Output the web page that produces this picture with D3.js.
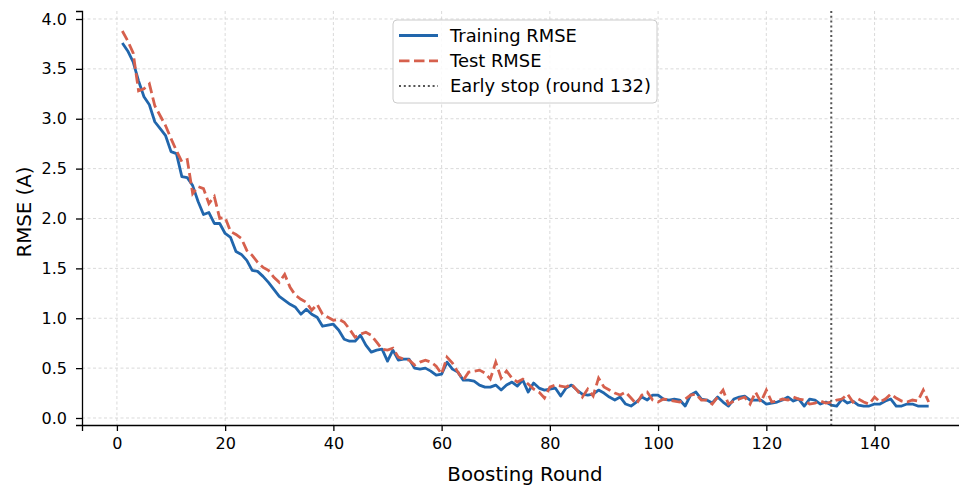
<!DOCTYPE html>
<html>
<head>
<meta charset="utf-8">
<script src="https://cdn.jsdelivr.net/npm/d3@7/dist/d3.min.js"></script>
<style>
  html, body { margin: 0; padding: 0; background: #fff; }
  svg { display: block; font-family: "DejaVu Sans", sans-serif; }
</style>
</head>
<body>
<svg id="chart" width="959" height="485"></svg>
<script>
// Boosting rounds 1..150
const rounds = d3.range(1, 151);

const trainRmse = [
  3.76, 3.68, 3.57, 3.38, 3.22, 3.14, 2.97, 2.90, 2.83, 2.67,
  2.65, 2.42, 2.41, 2.33, 2.17, 2.04, 2.06, 1.95, 1.95, 1.85,
  1.81, 1.67, 1.64, 1.58, 1.48, 1.47, 1.42, 1.36, 1.29, 1.22,
  1.18, 1.14, 1.11, 1.04, 1.09, 1.04, 1.01, 0.92, 0.93, 0.94,
  0.88, 0.79, 0.77, 0.77, 0.83, 0.73, 0.66, 0.68, 0.69, 0.57,
  0.68, 0.58, 0.59, 0.59, 0.50, 0.49, 0.50, 0.47, 0.43, 0.44,
  0.56, 0.49, 0.46, 0.38, 0.38, 0.37, 0.33, 0.31, 0.31, 0.33,
  0.28, 0.33, 0.36, 0.32, 0.38, 0.26, 0.35, 0.30, 0.28, 0.29,
  0.30, 0.22, 0.30, 0.33, 0.28, 0.24, 0.23, 0.24, 0.28, 0.25,
  0.21, 0.18, 0.21, 0.14, 0.12, 0.16, 0.21, 0.18, 0.23, 0.23,
  0.19, 0.18, 0.19, 0.18, 0.12, 0.23, 0.26, 0.19, 0.18, 0.15,
  0.21, 0.16, 0.12, 0.19, 0.21, 0.22, 0.18, 0.18, 0.18, 0.14,
  0.15, 0.16, 0.18, 0.21, 0.17, 0.19, 0.12, 0.19, 0.18, 0.14,
  0.16, 0.13, 0.12, 0.19, 0.15, 0.17, 0.13, 0.12, 0.12, 0.14,
  0.14, 0.17, 0.19, 0.12, 0.12, 0.14, 0.14, 0.12, 0.12, 0.12
];

const testRmse = [
  3.88, 3.78, 3.66, 3.28, 3.30, 3.35, 3.13, 3.03, 2.93, 2.80,
  2.68, 2.57, 2.59, 2.25, 2.32, 2.30, 2.15, 2.22, 2.00, 2.01,
  1.87, 1.84, 1.80, 1.68, 1.63, 1.56, 1.51, 1.48, 1.41, 1.36,
  1.44, 1.31, 1.23, 1.19, 1.16, 1.08, 1.14, 1.04, 1.01, 0.98,
  0.99, 0.96, 0.89, 0.81, 0.84, 0.86, 0.83, 0.76, 0.69, 0.68,
  0.70, 0.61, 0.59, 0.58, 0.53, 0.56, 0.58, 0.56, 0.52, 0.44,
  0.61, 0.55, 0.46, 0.38, 0.46, 0.47, 0.48, 0.45, 0.39, 0.56,
  0.40, 0.47, 0.40, 0.36, 0.39, 0.34, 0.29, 0.26, 0.20, 0.31,
  0.33, 0.32, 0.31, 0.34, 0.28, 0.21, 0.29, 0.22, 0.40, 0.31,
  0.28, 0.25, 0.23, 0.26, 0.20, 0.14, 0.23, 0.26, 0.18, 0.16,
  0.19, 0.18, 0.17, 0.16, 0.19, 0.23, 0.24, 0.18, 0.18, 0.14,
  0.21, 0.28, 0.14, 0.17, 0.19, 0.21, 0.14, 0.26, 0.16, 0.28,
  0.16, 0.17, 0.19, 0.18, 0.21, 0.19, 0.18, 0.14, 0.15, 0.17,
  0.15, 0.16, 0.18, 0.19, 0.24, 0.16, 0.19, 0.16, 0.14, 0.21,
  0.16, 0.19, 0.24, 0.20, 0.17, 0.16, 0.18, 0.17, 0.28, 0.16
];

const earlyStopRound = 132;
const xTicks = [0, 20, 40, 60, 80, 100, 120, 140];
const yTicks = [0.0, 0.5, 1.0, 1.5, 2.0, 2.5, 3.0, 3.5, 4.0];
const seriesNames = ["Training RMSE", "Test RMSE", "Early stop (round " + earlyStopRound + ")"];

const colors = { train: "#2166ac", test: "#d6604d", stop: "#555555" };

const svg = d3.select("#chart");
const plot = { left: 82, right: 969, top: 11, bottom: 425 };

const x = d3.scaleLinear().domain([-6.45, 157.45]).range([plot.left, plot.right]);
const y = d3.scaleLinear().domain([-0.0702, 4.0802]).range([plot.bottom, plot.top]);

// Grid
const grid = svg.append("g").attr("stroke", "#d0d0d0").attr("stroke-width", 0.8)
  .attr("stroke-dasharray", "3,2.5");
grid.selectAll(".gx").data(xTicks).join("line")
  .attr("x1", d => x(d)).attr("x2", d => x(d))
  .attr("y1", plot.top).attr("y2", plot.bottom);
grid.selectAll(".gy").data(yTicks).join("line")
  .attr("x1", plot.left).attr("x2", plot.right)
  .attr("y1", d => y(d)).attr("y2", d => y(d));

// Series
const line = d3.line().x((d, i) => x(rounds[i])).y(d => y(d));

svg.append("path").datum(trainRmse)
  .attr("fill", "none").attr("stroke", colors.train).attr("stroke-width", 2.8)
  .attr("stroke-linejoin", "round")
  .attr("d", line);

svg.append("path").datum(testRmse)
  .attr("fill", "none").attr("stroke", colors.test).attr("stroke-width", 2.8)
  .attr("stroke-dasharray", "10.5,4.5")
  .attr("d", line);

// Early stopping marker
svg.append("line")
  .attr("x1", x(earlyStopRound)).attr("x2", x(earlyStopRound))
  .attr("y1", plot.top).attr("y2", plot.bottom)
  .attr("stroke", colors.stop).attr("stroke-width", 2)
  .attr("stroke-dasharray", "2,2.8");

// Axes
const xAxis = d3.axisBottom(x).tickValues(xTicks).tickFormat(d3.format("d"))
  .tickSizeOuter(0).tickSize(6).tickPadding(7);
const yAxis = d3.axisLeft(y).tickValues(yTicks).tickFormat(d3.format(".1f"))
  .tickSizeOuter(0).tickSize(6).tickPadding(9);

const gx = svg.append("g").attr("transform", `translate(0,${plot.bottom})`).call(xAxis);
const gy = svg.append("g").attr("transform", `translate(${plot.left},0)`).call(yAxis);

[gx, gy].forEach(g => {
  g.select(".domain").attr("stroke", "#000").attr("stroke-width", 1.3);
  g.selectAll(".tick line").attr("stroke", "#000").attr("stroke-width", 1.3);
  g.selectAll(".tick text").attr("fill", "#000")
    .style("font-family", "'DejaVu Sans', sans-serif").style("font-size", "16px");
});

// Axis titles
svg.append("text")
  .attr("x", 525).attr("y", 481)
  .attr("text-anchor", "middle").style("font-size", "19.8px").attr("fill", "#000")
  .text("Boosting Round");

svg.append("text")
  .attr("transform", "translate(30.5,212) rotate(-90)")
  .attr("text-anchor", "middle").style("font-size", "19.8px").attr("fill", "#000")
  .text("RMSE (A)");

// Legend
const legend = svg.append("g");
legend.append("rect")
  .attr("x", 393).attr("y", 20).attr("width", 264).attr("height", 83)
  .attr("rx", 4).attr("fill", "#fff").attr("fill-opacity", 0.85)
  .attr("stroke", "#cccccc").attr("stroke-width", 1);

const legendRows = [
  { name: seriesNames[0], color: colors.train, dash: null, width: 2.8 },
  { name: seriesNames[1], color: colors.test, dash: "10.5,4.5", width: 2.8 },
  { name: seriesNames[2], color: colors.stop, dash: "2,2.8", width: 2 }
];
legendRows.forEach((row, i) => {
  const cy = 35.5 + i * 25.3;
  legend.append("line")
    .attr("x1", 399).attr("x2", 438).attr("y1", cy).attr("y2", cy)
    .attr("stroke", row.color).attr("stroke-width", row.width)
    .attr("stroke-dasharray", row.dash);
  legend.append("text")
    .attr("x", 450).attr("y", cy).attr("dy", "0.35em")
    .style("font-size", "17.9px").attr("fill", "#000")
    .text(row.name);
});
</script>
</body>
</html>
